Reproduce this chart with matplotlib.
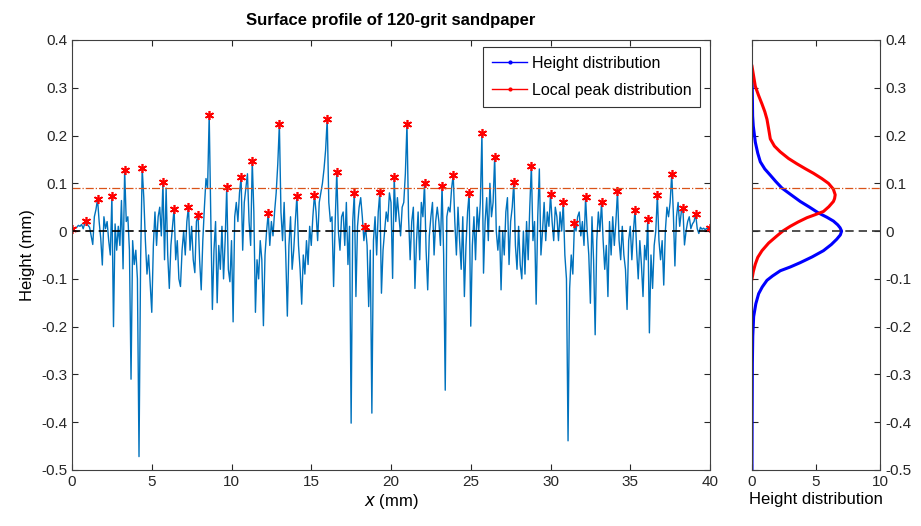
import numpy as np
import matplotlib
matplotlib.use("Agg")
import matplotlib.pyplot as plt
from matplotlib.lines import Line2D

plt.rcParams['font.family'] = ['Liberation Sans', 'DejaVu Sans']
plt.rcParams['axes.unicode_minus'] = False

# surface profile, sampled every 0.1 mm from 0 to 40 mm (one row per mm)
height_mm = [
    0.005, 0.004, 0.006, 0.008, 0.012, 0.010, 0.014, 0.005, 0.016, 0.021,
    0.012, 0.008, -0.010, -0.028, 0.030, 0.045, 0.067, 0.020, -0.015, -0.071,
    0.030, 0.005, 0.020, -0.020, -0.050, 0.073, -0.200, 0.015, -0.040, 0.010,
    -0.030, 0.064, -0.079, 0.128, 0.020, 0.030, -0.040, -0.310, -0.020, -0.070,
    -0.040, -0.100, -0.472, -0.060, 0.131, 0.070, -0.020, -0.090, -0.050, -0.110,
    -0.170, -0.030, 0.040, -0.030, 0.030, 0.050, -0.010, 0.103, -0.060, 0.090,
    -0.050, -0.120, -0.030, 0.010, 0.047, -0.060, -0.020, -0.100, -0.116, -0.040,
    0.000, -0.050, 0.020, 0.051, -0.040, 0.010, -0.060, -0.087, 0.020, 0.034,
    -0.060, -0.123, -0.020, 0.050, 0.110, 0.090, 0.243, 0.030, -0.164, -0.040,
    0.020, -0.150, -0.030, -0.080, 0.010, -0.100, -0.020, 0.092, -0.080, -0.106,
    -0.020, -0.190, 0.030, 0.060, 0.020, 0.080, 0.113, -0.040, 0.060, 0.090,
    0.120, 0.020, -0.030, 0.147, 0.040, -0.170, -0.060, -0.100, -0.020, -0.060,
    -0.198, -0.050, 0.000, 0.037, -0.030, 0.020, -0.010, 0.040, 0.080, 0.140,
    0.224, 0.040, -0.020, 0.060, -0.050, -0.178, -0.030, 0.030, -0.080, -0.040,
    0.020, 0.074, -0.030, -0.080, -0.153, -0.050, -0.090, -0.020, -0.070, 0.010,
    -0.030, 0.030, 0.076, 0.040, -0.020, 0.060, 0.080, 0.100, 0.130, 0.170,
    0.235, 0.060, 0.020, 0.030, -0.116, 0.020, 0.124, 0.000, -0.040, 0.030,
    0.040, -0.030, 0.060, -0.070, 0.010, -0.402, 0.020, 0.080, -0.137, 0.010,
    0.050, 0.070, 0.030, -0.020, 0.009, -0.030, -0.158, -0.040, -0.381, -0.020,
    0.030, -0.050, 0.040, 0.082, -0.130, -0.040, 0.000, 0.040, 0.020, 0.080,
    0.060, -0.099, 0.113, 0.020, 0.070, 0.030, -0.010, 0.050, 0.060, 0.120,
    0.224, 0.030, -0.060, 0.020, 0.050, -0.120, -0.020, 0.040, -0.060, 0.060,
    0.030, 0.100, -0.040, -0.123, -0.010, 0.030, 0.060, -0.050, 0.020, 0.050,
    0.020, -0.030, 0.095, -0.050, -0.333, 0.030, 0.050, 0.040, 0.090, 0.118,
    0.020, -0.050, 0.050, -0.020, -0.080, 0.030, -0.137, -0.030, 0.040, 0.080,
    -0.199, -0.030, 0.030, -0.060, 0.050, 0.000, 0.060, 0.205, -0.088, 0.020,
    0.070, -0.020, 0.100, 0.030, 0.060, 0.156, 0.000, -0.040, 0.010, -0.123,
    0.000, -0.050, 0.040, 0.070, -0.070, 0.020, 0.050, 0.103, -0.030, -0.080,
    0.010, -0.070, -0.100, 0.000, -0.090, 0.020, -0.060, 0.050, 0.137, -0.020,
    0.020, -0.153, 0.030, 0.130, -0.050, 0.000, 0.060, -0.020, 0.040, 0.010,
    0.077, 0.020, -0.020, 0.050, 0.030, -0.020, 0.040, 0.000, 0.060, -0.050,
    -0.100, -0.439, -0.120, -0.050, -0.090, 0.016, 0.000, 0.030, 0.040, -0.010,
    0.020, -0.030, 0.071, 0.000, -0.050, -0.151, 0.030, -0.060, -0.217, -0.020,
    0.040, 0.000, 0.060, -0.020, -0.080, -0.030, -0.137, 0.020, -0.050, 0.030,
    -0.030, 0.020, 0.083, -0.020, -0.060, 0.010, -0.050, -0.080, -0.164, -0.020,
    0.010, -0.060, 0.000, 0.045, -0.040, -0.100, -0.020, -0.070, -0.137, -0.030,
    -0.060, 0.025, -0.213, -0.050, -0.120, -0.030, 0.000, 0.075, -0.020, -0.060,
    -0.020, -0.113, 0.000, 0.050, 0.030, 0.060, 0.120, 0.040, -0.073, 0.030,
    0.060, 0.010, 0.040, 0.049, -0.029, 0.000, 0.020, 0.030, 0.005, 0.015,
    0.020, 0.035, 0.005, -0.005, 0.008, 0.004, 0.006, 0.003, 0.006, 0.005,
    0.006,
]

# local peaks marked with red asterisks (x positions, mm)
peak_x = [0.0, 0.9, 1.6, 2.5, 3.3, 4.4, 5.7, 6.4, 7.3, 7.9, 8.6, 9.7, 10.6, 11.3,
          12.3, 13.0, 14.1, 15.2, 16.0, 16.6, 17.7, 18.4, 19.3, 20.2, 21.0, 22.1,
          23.2, 23.9, 24.9, 25.7, 26.5, 27.7, 28.8, 30.0, 30.8, 31.5, 32.2, 33.2,
          34.2, 35.3, 36.1, 36.7, 37.6, 38.3, 39.1, 40.0]

threshold = 0.09

# height distribution (blue)
hd_density = [0.0, 0.02, 0.05, 0.10, 0.26, 0.45, 0.65, 1.0, 1.43, 1.85, 2.34, 3.0,
              3.77, 4.5, 5.19, 5.85, 6.36, 6.7, 6.88, 7.0, 6.9, 6.62, 6.2, 5.58,
              4.7, 3.77, 3.0, 2.21, 1.6, 1.17, 0.8, 0.52, 0.3, 0.13, 0.06, 0.03,
              0.01, 0.0]
hd_height = [0.324, 0.30, 0.241, 0.22, 0.186, 0.163, 0.145, 0.13, 0.117, 0.104, 0.090,
             0.077, 0.062, 0.050, 0.038, 0.029, 0.021, 0.013, 0.007, 0.0, -0.008,
             -0.017, -0.028, -0.041, -0.054, -0.066, -0.075, -0.083, -0.094, -0.103,
             -0.117, -0.131, -0.152, -0.179, -0.22, -0.276, -0.40, -0.5]

# local peak distribution (red)
pd_density = [0.0, 0.26, 0.5, 0.78, 1.0, 1.17, 1.30, 1.43, 1.75, 2.2, 2.85, 3.5,
              4.2, 4.8, 5.45, 5.97, 6.35, 6.5, 6.45, 6.36, 6.0, 5.58, 4.9, 4.29,
              3.6, 2.99, 2.4, 1.95, 1.3, 0.78, 0.45, 0.26, 0.1, 0.0]
pd_height = [0.345, 0.303, 0.285, 0.266, 0.25, 0.234, 0.214, 0.193, 0.178, 0.166,
             0.152, 0.141, 0.13, 0.121, 0.11, 0.100, 0.088, 0.076, 0.068, 0.062,
             0.051, 0.041, 0.034, 0.028, 0.019, 0.010, 0.0, -0.010, -0.025, -0.041,
             -0.055, -0.069, -0.085, -0.100]

x_mm = np.linspace(0, 40, len(height_mm))
h = np.array(height_mm)
pk_idx = np.round(np.array(peak_x) / 0.1).astype(int)

yticks = np.round(np.arange(-0.5, 0.41, 0.1), 1) + 0.0
ylabels = ['%g' % v for v in yticks]

fig = plt.figure(figsize=(9.21, 5.26), dpi=100)
ax = fig.add_axes([0.0782, 0.1065, 0.6927, 0.8175])
ax2 = fig.add_axes([0.8165, 0.1065, 0.139, 0.8175])

spine_col = '#404040'

ax.plot(x_mm, h, color='#0072BD', lw=1.0)
ax.plot(x_mm[pk_idx], h[pk_idx], ls='none', marker=(6, 2, 0), ms=6.5, mew=1.2, color='red')
ax.axhline(0, color='black', ls=(0, (5, 3)), lw=1.2)
ax.axhline(threshold, color='#D95319', ls='-.', lw=0.9)
ax.set_xlim(0, 40)
ax.set_ylim(-0.5, 0.4)
ax.set_xticks(np.arange(0, 41, 5))
ax.set_yticks(yticks)
ax.set_yticklabels(ylabels)
ax.set_xlabel('$x$ (mm)', fontsize=12, labelpad=2)
ax.set_ylabel('Height (mm)', fontsize=12, labelpad=4)
ax.set_title('Surface profile of 120-grit sandpaper', fontsize=12, fontweight='bold', pad=11)

handles = [Line2D([], [], color='blue', lw=1, marker='.', ms=4),
           Line2D([], [], color='red', lw=1, marker='.', ms=4)]
leg = ax.legend(handles, ['Height distribution', 'Local peak distribution'],
                loc='upper right', bbox_to_anchor=(0.985, 0.983), borderaxespad=0,
                fancybox=False, framealpha=1, edgecolor='#333333', fontsize=11.5,
                handlelength=2.2, handletextpad=0.3, borderpad=0.55, labelspacing=0.75)
leg.get_frame().set_linewidth(0.8)

ax2.plot(hd_density, hd_height, color='blue', lw=2.2)
ax2.plot(pd_density, pd_height, color='red', lw=2.2)
ax2.axhline(0, color='#333333', ls=(0, (5, 3)), lw=1.2)
ax2.axhline(threshold, color='#D95319', ls='-.', lw=0.9)
ax2.set_xlim(0, 10)
ax2.set_ylim(-0.5, 0.4)
ax2.set_xticks([0, 5, 10])
ax2.set_yticks(yticks)
ax2.set_yticklabels(ylabels)
ax2.yaxis.tick_right()
ax2.set_xlabel('Height distribution', fontsize=12, labelpad=2)

for a in (ax, ax2):
    a.tick_params(direction='in', top=True, bottom=True, left=True, right=True,
                  labelsize=11, length=4, width=0.8, colors='#262626')
    for s in a.spines.values():
        s.set_color(spine_col)
        s.set_linewidth(0.8)
ax2.tick_params(labelleft=False, labelright=True)

fig.savefig('out.png', dpi=100)
